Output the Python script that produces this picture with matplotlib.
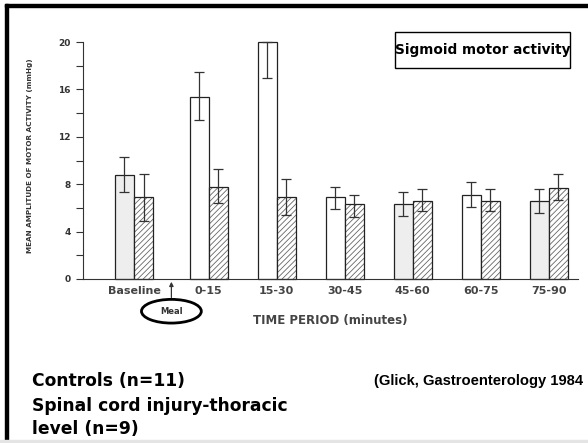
import numpy as np
import matplotlib
matplotlib.use("Agg")
import matplotlib.pyplot as plt
import matplotlib.patches as mpatches
import matplotlib.transforms as mtransforms

periods = ["Baseline", "0-15", "15-30", "30-45", "45-60", "60-75", "75-90"]

controls = [8.8, 15.4, 20.0, 6.9, 6.3, 7.1, 6.6]
controls_hi = [10.3, 17.5, 20.0, 7.8, 7.3, 8.2, 7.6]
controls_lo = [7.3, 13.4, 17.0, 5.9, 5.3, 6.1, 5.6]

sci = [6.9, 7.8, 6.9, 6.3, 6.6, 6.6, 7.7]
sci_hi = [8.9, 9.3, 8.4, 7.1, 7.6, 7.6, 8.9]
sci_lo = [4.9, 6.4, 5.4, 5.2, 5.7, 5.7, 6.7]

W, H = 588, 443
fig = plt.figure(figsize=(W / 100, H / 100), dpi=100)
fig.patch.set_facecolor("white")

def fx(px):
    return px / W

def fy(py):
    return 1 - py / H

ax = fig.add_axes([fx(83), fy(279), fx(578) - fx(83), fy(42) - fy(279)])

# group positions, extra gap after baseline (meal)
x = np.arange(len(periods), dtype=float) - 1
x[0] -= 0.1
bw = 0.28

fills = ["#eeeeee", "white", "white", "white", "#eeeeee", "white", "#eeeeee"]

c = np.array(controls)
s = np.array(sci)
ax.bar(x - bw / 2, c, bw, color=fills, edgecolor="#222222", linewidth=0.9,
       clip_on=False, zorder=2)
ax.errorbar(x - bw / 2, c, yerr=[c - np.array(controls_lo), np.array(controls_hi) - c],
            fmt="none", ecolor="#333333", elinewidth=0.9, capsize=3.5, capthick=0.9,
            clip_on=False, zorder=3)

plt.rcParams["hatch.linewidth"] = 0.6
ax.bar(x + bw / 2, s, bw, color="white", edgecolor="#666666", hatch="//////",
       linewidth=0, clip_on=False, zorder=2)
ax.bar(x + bw / 2, s, bw, color="none", edgecolor="#222222", linewidth=0.9,
       clip_on=False, zorder=2)
ax.errorbar(x + bw / 2, s, yerr=[s - np.array(sci_lo), np.array(sci_hi) - s],
            fmt="none", ecolor="#333333", elinewidth=0.9, capsize=3.5, capthick=0.9,
            clip_on=False, zorder=3)

ax.set_xlim(-1.85, 5.43)
ax.set_ylim(0, 20)
for side in ["top", "right"]:
    ax.spines[side].set_visible(False)
ax.spines["left"].set_color("#333333")
ax.spines["bottom"].set_color("#333333")
ax.set_yticks(np.arange(0, 21, 4))
ax.set_yticks(np.arange(0, 21, 2), minor=True)
ax.tick_params(axis="y", which="both", length=5, width=0.8, color="#333333",
               labelsize=6.5, pad=4)
for lab in ax.get_yticklabels():
    lab.set_fontweight("bold")
    lab.set_color("#333333")
ax.set_xticks(x)
ax.set_xticklabels(periods, fontsize=8, fontweight="bold", color="#444444")
ax.tick_params(axis="x", length=0, pad=5)

ax.set_xlabel("TIME PERIOD (minutes)", fontsize=8.5, fontweight="bold",
              color="#444444", labelpad=13)
ax.set_ylabel("MEAN AMPLITUDE OF MOTOR ACTIVITY (mmHg)", fontsize=5.2,
              fontweight="bold", color="#333333", labelpad=22)
ax.yaxis.set_label_coords(-0.1, 0.52)

# meal marker
trans = mtransforms.blended_transform_factory(ax.transData, ax.transAxes)
mx = (x[0] + x[1]) / 2
ax.annotate("", xy=(mx, 0.0), xytext=(mx, -0.09), xycoords=trans, textcoords=trans,
            arrowprops=dict(arrowstyle="-|>", color="#333333", lw=0.9,
                            mutation_scale=6), annotation_clip=False)
ax.add_patch(mpatches.Ellipse((mx, -0.136), 0.88, 0.10, transform=trans,
                              fill=False, edgecolor="black", linewidth=2,
                              clip_on=False))
ax.text(mx, -0.136, "Meal", transform=trans, ha="center", va="center",
        fontsize=6, fontweight="bold", color="#333333")

# title box
fig.patches.append(mpatches.Rectangle((fx(395), fy(68)), fx(570) - fx(395),
                                      fy(32) - fy(68), transform=fig.transFigure,
                                      fill=False, edgecolor="black", linewidth=1))
fig.text(fx(482.5), fy(50), "Sigmoid motor activity", ha="center", va="center",
         fontsize=9.8, fontweight="bold")

fig.text(fx(32), fy(381), "Controls (n=11)", ha="left", va="center",
         fontsize=12.3, fontweight="bold")
fig.text(fx(32), fy(406), "Spinal cord injury-thoracic", ha="left", va="center",
         fontsize=12.3, fontweight="bold")
fig.text(fx(32), fy(429), "level (n=9)", ha="left", va="center",
         fontsize=12.3, fontweight="bold")
fig.text(fx(374), fy(381), "(Glick, Gastroenterology 1984", ha="left", va="center",
         fontsize=10.6, fontweight="bold", family="Liberation Sans")

# frame of the slide
fig.patches.append(mpatches.Rectangle((fx(5), fy(440)), fx(3), fy(4) - fy(440),
                                      transform=fig.transFigure, color="black"))
fig.patches.append(mpatches.Rectangle((fx(5), fy(7)), 1, fy(4) - fy(7),
                                      transform=fig.transFigure, color="black"))
fig.patches.append(mpatches.Rectangle((0, 0), 1, fy(440), transform=fig.transFigure,
                                      color="#e4e4e4"))

fig.savefig("out.png", dpi=100)
